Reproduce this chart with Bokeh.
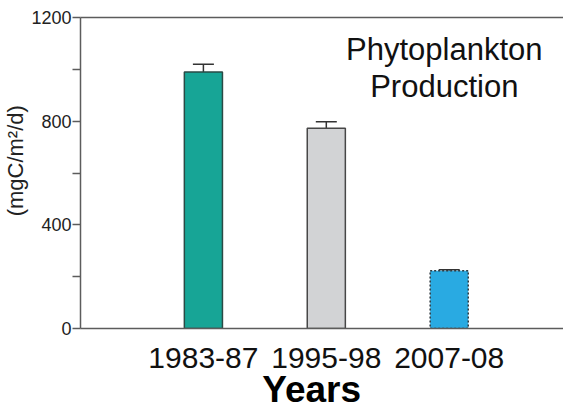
import numpy as np
from bokeh.plotting import figure
from bokeh.models import (Range1d, FixedTicker, LinearAxis, Whisker, TeeHead,
                          ColumnDataSource, Label)
from bokeh.embed import file_html
from bokeh.resources import INLINE

# 数据
periods = ["1983-87", "1995-98", "2007-08"]
xpos = [1, 2, 3]
production = [990, 773, 223]
err = [30, 25, 4]
fills = ["#17a596", "#d2d3d5", "#29aae2"]
edges = ["#2a4a45", "#474747", "#2f3a40"]
dashes = ["solid", "solid", "2 2"]
yticks = [0, 200, 400, 600, 800, 1000, 1200]
ylabels = {200: "", 600: "", 1000: ""}

FONT = "Liberation Sans"
AXIS = "#5c5c5c"
NBSP = "\u00a0"

p = figure(width=563, height=412, output_backend="svg", toolbar_location=None,
           x_range=Range1d(0, 3.93), y_range=Range1d(0, 1200),
           min_border_left=77, min_border_right=0, min_border_top=17,
           min_border_bottom=83)
p.outline_line_color = None
p.grid.visible = False
p.background_fill_color = "white"

# 柱子
for i in range(len(xpos)):
    p.vbar(x=xpos[i], top=production[i], width=0.31, fill_color=fills[i],
           line_color=edges[i], line_width=1.5, line_dash=dashes[i])

# 误差线
src = ColumnDataSource(data=dict(
    x=xpos,
    lower=production,
    upper=[v + e for v, e in zip(production, err)],
))
p.add_layout(Whisker(base="x", upper="upper", lower="lower", source=src,
                     line_color="#333333", line_width=1.5,
                     upper_head=TeeHead(size=21, line_color="#333333", line_width=1.5),
                     lower_head=None))

# y轴
ya = p.yaxis[0]
ya.ticker = FixedTicker(ticks=yticks)
ya.major_label_overrides = ylabels
ya.major_label_text_font = FONT
ya.major_label_text_font_size = "18px"
ya.major_label_text_color = "#222222"
ya.major_label_standoff = 1
ya.major_tick_out = 8
ya.major_tick_in = 0
ya.minor_tick_line_color = None
ya.axis_line_color = AXIS
ya.axis_line_width = 1.5
ya.major_tick_line_color = AXIS
ya.major_tick_line_width = 1.5
# 原图轴标题略偏上，用不换行空格把它推上去
ya.axis_label = NBSP * 4 + "(mgC/m²/d)"
ya.axis_label_text_font = FONT
ya.axis_label_text_font_style = "normal"
ya.axis_label_text_font_size = "22px"
ya.axis_label_text_color = "#222222"
ya.axis_label_standoff = 0

# x轴
xa = p.xaxis[0]
xa.ticker = FixedTicker(ticks=xpos)
xa.major_label_overrides = {x: s for x, s in zip(xpos, periods)}
xa.major_label_text_font = FONT
xa.major_label_text_font_size = "30px"
xa.major_label_text_color = "#111111"
xa.major_label_standoff = 13
xa.major_tick_line_color = None
xa.minor_tick_line_color = None
xa.axis_line_color = AXIS
xa.axis_line_width = 1.5
xa.axis_label = "Years" + NBSP * 2
xa.axis_label_text_font = FONT
xa.axis_label_text_font_style = "bold"
xa.axis_label_text_font_size = "37px"
xa.axis_label_text_color = "#000000"
xa.axis_label_text_baseline = "alphabetic"
xa.axis_label_standoff = -2

# 顶部边线
top = LinearAxis(ticker=FixedTicker(ticks=[]), axis_line_color=AXIS,
                 axis_line_width=1.5, major_tick_line_color=None,
                 minor_tick_line_color=None, major_label_text_font_size="0px")
p.add_layout(top, "above")

# 标题文字
for txt, yy in [("Phytoplankton", 1078), ("Production", 934)]:
    p.add_layout(Label(x=2.96, y=yy, text=txt, text_align="center",
                       text_baseline="alphabetic", text_font=FONT,
                       text_font_size="31px", text_color="#111111"))

open("out.html", "w").write(file_html(p, INLINE))
